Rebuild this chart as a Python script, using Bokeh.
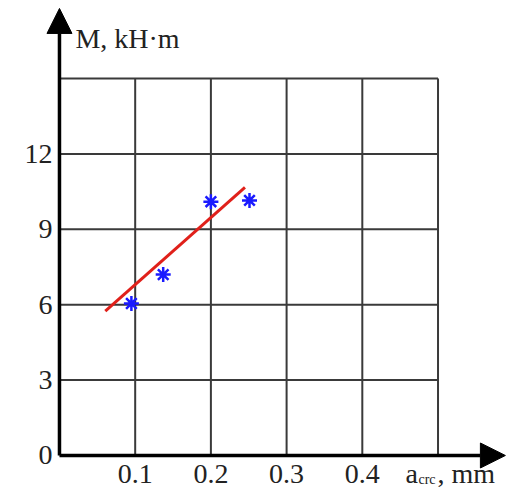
from bokeh.plotting import figure
from bokeh.models import Range1d, Arrow, NormalHead, Label
from bokeh.core.properties import value
from bokeh.embed import file_html
from bokeh.resources import INLINE

# ---- data ----
x_ticks = [0.1, 0.2, 0.3, 0.4]
x_tick_labels = ["0.1", "0.2", "0.3", "0.4"]
y_ticks = [0, 3, 6, 9, 12]
y_tick_labels = ["0", "3", "6", "9", "12"]
x_grid = [0.1, 0.2, 0.3, 0.4, 0.5]
y_grid = [3, 6, 9, 12, 15]
x_max_grid = 0.5
y_max_grid = 15

pts_x = [0.095, 0.137, 0.200, 0.251]
pts_y = [6.05, 7.2, 10.1, 10.15]

fit_x = [0.0605, 0.245]
fit_y = [5.75, 10.67]

x_axis_end = 0.589
y_axis_end = 17.79

SERIF = "Liberation Serif"

p = figure(width=508, height=491, output_backend="svg", toolbar_location=None,
           x_range=Range1d(-0.0779, 0.5931), y_range=Range1d(-1.4326, 18.106),
           min_border=0, min_border_left=0, min_border_right=0,
           min_border_top=0, min_border_bottom=0)
p.xaxis.visible = False
p.yaxis.visible = False
p.xgrid.visible = False
p.ygrid.visible = False
p.outline_line_color = None
p.background_fill_color = "white"
p.border_fill_color = "white"

# grid
p.segment(x0=x_grid, y0=[0] * len(x_grid), x1=x_grid, y1=[y_max_grid] * len(x_grid),
          line_color="#3a3a3a", line_width=2)
p.segment(x0=[0] * len(y_grid), y0=y_grid, x1=[x_max_grid] * len(y_grid), y1=y_grid,
          line_color="#3a3a3a", line_width=2)

# axes with arrows
p.add_layout(Arrow(end=NormalHead(size=25, fill_color="black", line_color="black"),
                   x_start=0, y_start=0, x_end=0, y_end=y_axis_end,
                   line_color="black", line_width=3.5))
p.add_layout(Arrow(end=NormalHead(size=25, fill_color="black", line_color="black"),
                   x_start=0, y_start=0, x_end=x_axis_end, y_end=0,
                   line_color="black", line_width=3.5))

# tick labels
p.text(x=x_ticks, y=[0] * len(x_ticks), text=x_tick_labels,
       text_font=value(SERIF), text_font_size="28px", text_color="#222222",
       text_align="center", text_baseline="middle", y_offset=19)
p.text(x=[0] * len(y_ticks), y=y_ticks, text=y_tick_labels,
       text_font=value(SERIF), text_font_size="28px", text_color="#222222",
       text_align="right", text_baseline="middle", x_offset=-7)

# data
p.line(fit_x, fit_y, line_color="#e0201a", line_width=3)
p.scatter(pts_x, pts_y, marker="asterisk", size=15, line_color="#1a1aff", line_width=2.5)

# axis titles
p.add_layout(Label(x=0.021, y=16.6, text="M, kH·m", text_font=SERIF,
                   text_font_size="28px", text_color="#222222", text_baseline="middle"))
p.add_layout(Label(x=0.457, y=-0.72, text="a", text_font=SERIF,
                   text_font_size="28px", text_color="#222222", text_baseline="middle"))
p.add_layout(Label(x=0.457, y=-0.96, x_offset=13, text="crc", text_font=SERIF,
                   text_font_size="14px", text_color="#222222", text_baseline="middle"))
p.add_layout(Label(x=0.457, y=-0.72, x_offset=32, text=", mm", text_font=SERIF,
                   text_font_size="28px", text_color="#222222", text_baseline="middle"))

open("out.html", "w").write(file_html(p, INLINE))
